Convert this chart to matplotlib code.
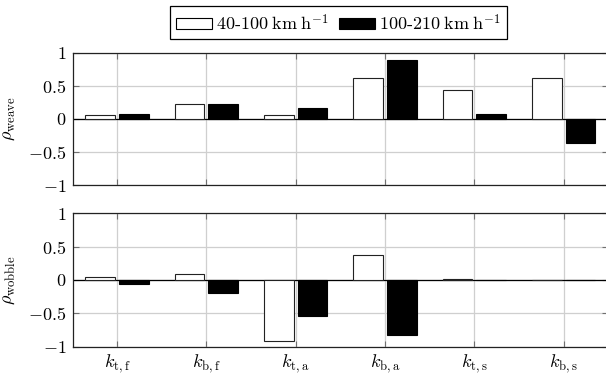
import matplotlib

matplotlib.use("Agg")
import matplotlib.pyplot as plt
import numpy as np

categories = [r"$k_{\mathrm{t,f}}$", r"$k_{\mathrm{b,f}}$", r"$k_{\mathrm{t,a}}$",
              r"$k_{\mathrm{b,a}}$", r"$k_{\mathrm{t,s}}$", r"$k_{\mathrm{b,s}}$"]
weave_low = [0.065, 0.22, 0.055, 0.615, 0.43, 0.62]
weave_high = [0.07, 0.22, 0.165, 0.89, 0.075, -0.37]
wobble_low = [0.04, 0.09, -0.92, 0.37, 0.008, 0.006]
wobble_high = [-0.055, -0.195, -0.545, -0.82, 0.005, 0.004]
series_labels = [r"40-100$\;\mathrm{km}\;\mathrm{h}^{-1}$", r"100-210$\;\mathrm{km}\;\mathrm{h}^{-1}$"]
ytick_values = [-1, -0.5, 0, 0.5, 1]
ytick_labels = [r"$-1$", r"$-0.5$", r"$0$", r"$0.5$", r"$1$"]

plt.rcParams["font.family"] = "serif"
plt.rcParams["font.serif"] = ["cmr10"]
plt.rcParams["mathtext.fontset"] = "cm"
plt.rcParams["axes.unicode_minus"] = False

FS = 13

fig = plt.figure(figsize=(6.06, 3.75), dpi=100)
ax_top = fig.add_axes([0.1205, 0.5059, 0.882, 0.354])
ax_bot = fig.add_axes([0.1205, 0.0755, 0.882, 0.3557])

x = np.arange(len(categories))
width = 0.333
shift = 0.188


def draw_panel(ax, low, high, ylabel):
    ax.grid(True, color="#cfcfcf", linewidth=0.9, zorder=0)
    ax.set_axisbelow(True)
    ax.axhline(0, color="black", linewidth=0.9, zorder=2)
    ax.bar(x - shift, low, width, color="white", edgecolor="#222222", linewidth=0.8, zorder=3)
    ax.bar(x + shift, high, width, color="black", edgecolor="black", linewidth=0.8, zorder=3)
    ax.set_xlim(-0.49, 5.49)
    ax.set_ylim(-1, 1)
    ax.set_xticks(x)
    ax.set_yticks(ytick_values, labels=ytick_labels)
    ax.tick_params(direction="in", length=4, width=0.8, color="#707070",
                   top=True, right=True, labelsize=FS, pad=5)
    for side in ["left", "top", "bottom"]:
        ax.spines[side].set_linewidth(0.9)
        ax.spines[side].set_color("#222222")
    ax.spines["right"].set_visible(False)
    ax.set_ylabel(ylabel, fontsize=FS)
    ax.yaxis.set_label_coords(-0.105, 0.5)


draw_panel(ax_top, weave_low, weave_high, r"$\rho_{\mathrm{weave}}$")
draw_panel(ax_bot, wobble_low, wobble_high, r"$\rho_{\mathrm{wobble}}$")
ax_top.set_xticklabels([])
ax_bot.set_xticklabels(categories)
ax_bot.tick_params(axis="x", pad=4)

handles = [
    plt.Rectangle((0, 0), 1, 1, facecolor="white", edgecolor="black", linewidth=0.8),
    plt.Rectangle((0, 0), 1, 1, facecolor="black", edgecolor="black", linewidth=0.8),
]
leg = fig.legend(handles, series_labels, loc="center", bbox_to_anchor=(0.558, 0.939),
                 ncol=2, fontsize=FS, frameon=True, fancybox=False, framealpha=1,
                 edgecolor="black", handlelength=2.0, handleheight=0.6,
                 handletextpad=0.2, columnspacing=0.6, borderpad=0.35, borderaxespad=0)
leg.get_frame().set_linewidth(0.9)

fig.savefig("out.png", dpi=100)
